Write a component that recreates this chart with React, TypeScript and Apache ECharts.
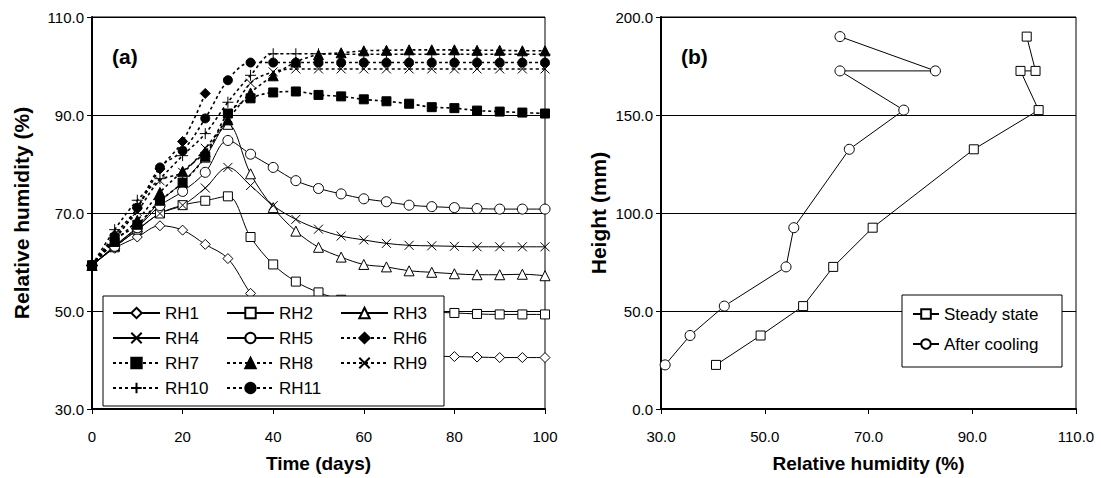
import React, { useEffect, useRef } from "react";
import * as echarts from "echarts";

const days = [0, 5, 10, 15, 20, 25, 30, 35, 40, 45, 50, 55, 60, 65, 70, 75, 80, 85, 90, 95, 100];

const RH1 = [59.3, 62.8, 65.1, 67.4, 66.5, 63.6, 60.7, 53.6, 48.0, 44.6, 43.0, 42.1, 41.6, 41.2, 41.0, 40.8, 40.7, 40.6, 40.5, 40.5, 40.5];
const RH2 = [59.3, 63.0, 66.6, 69.9, 71.6, 72.5, 73.4, 65.1, 59.5, 56.0, 53.8, 52.3, 51.3, 50.6, 50.1, 49.8, 49.6, 49.4, 49.3, 49.3, 49.3];
const RH3 = [59.3, 63.3, 67.2, 72.3, 76.3, 81.4, 88.1, 78.0, 71.1, 66.3, 63.0, 61.0, 59.5, 59.0, 58.2, 57.9, 57.6, 57.4, 57.4, 57.5, 57.2];
const RH4 = [59.3, 63.1, 66.5, 69.9, 71.6, 75.1, 79.3, 75.6, 71.5, 68.7, 66.7, 65.3, 64.5, 63.8, 63.4, 63.3, 63.2, 63.1, 63.1, 63.1, 63.1];
const RH5 = [59.3, 63.2, 67.0, 71.5, 74.4, 78.3, 84.8, 82.0, 79.3, 76.6, 75.0, 73.9, 72.9, 72.3, 71.6, 71.3, 71.1, 70.9, 70.8, 70.8, 70.8];
const RH6 = [59.3, 65.5, 71.0, 79.0, 84.6, 94.4, null, null, null, null, null, null, null, null, null, null, null, null, null, null, null];
const RH7 = [59.3, 64.5, 67.6, 72.5, 76.2, 81.5, 90.3, 93.4, 94.6, 94.8, 94.1, 93.8, 93.2, 92.8, 92.3, 91.6, 91.4, 90.9, 90.7, 90.5, 90.3];
const RH8 = [59.3, 64.2, 68.5, 74.2, 78.5, 82.5, 89.0, 94.5, 98.0, 100.8, 102.3, 102.7, 103.1, 103.2, 103.3, 103.3, 103.3, 103.2, 103.2, 103.1, 103.1];
const RH9 = [59.3, 65.0, 70.3, 76.6, 78.3, 83.2, 89.4, 96.5, 98.8, 99.4, 99.4, 99.4, 99.4, 99.4, 99.4, 99.4, 99.4, 99.4, 99.4, 99.4, 99.4];
const RH10 = [59.3, 66.6, 72.6, 77.0, 81.7, 86.2, 92.6, 98.1, 102.5, 102.5, 102.5, 102.4, 102.4, 102.4, 102.4, 102.4, 102.4, 102.4, 102.4, 102.4, 102.4];
const RH11 = [59.3, 64.5, 71.1, 79.3, 82.7, 89.3, 97.1, 100.7, 100.7, 100.7, 100.7, 100.7, 100.7, 100.7, 100.7, 100.7, 100.7, 100.7, 100.7, 100.7, 100.7];

const heights = [190.0, 172.5, 172.5, 152.5, 132.5, 92.5, 72.5, 52.5, 37.5, 22.5];
const steadyRH = [100.5, 102.2, 99.3, 102.8, 90.3, 70.8, 63.2, 57.4, 49.2, 40.6];
const coolingRH = [64.5, 82.9, 64.5, 76.8, 66.3, 55.6, 54.1, 42.2, 35.6, 30.8];

const leftYTicks = [30, 110, 20];
const rightXTicks = [30, 110, 20];
const rightYTicks = [0, 200, 50];
const timeTicks = [0, 100, 20];

const FONT = "Liberation Sans, Arial, sans-serif";
const CROSS = "path://M0,0L10,10M10,0L0,10";
const PLUS = "path://M5,0L5,10M0,5L10,5";

export default function App() {
  const ref = useRef<HTMLDivElement>(null);

  useEffect(() => {
    if (!ref.current) return;
    const chart = echarts.init(ref.current, null, { renderer: "svg" });

    const pairs = (ys: (number | null)[]) => days.map((d, i) => [d, ys[i] === null ? null : ys[i]]);

    const openStyle = { color: "#fff", borderColor: "#000", borderWidth: 1 };
    const filledStyle = { color: "#000", borderColor: "#000", borderWidth: 1 };
    const strokeStyle = { color: "none", borderColor: "#000", borderWidth: 1 };
    const solid = { color: "#000", width: 1, type: "solid" };
    const dotted = { color: "#000", width: 1.6, type: [3, 3] };

    const defs: any[] = [
      ["RH1", RH1, "diamond", 10, openStyle, solid],
      ["RH2", RH2, "rect", 9, openStyle, solid],
      ["RH3", RH3, "triangle", 10, openStyle, solid],
      ["RH4", RH4, CROSS, 9, strokeStyle, solid],
      ["RH5", RH5, "circle", 10, openStyle, solid],
      ["RH6", RH6, "diamond", 10, filledStyle, dotted],
      ["RH7", RH7, "rect", 9, filledStyle, dotted],
      ["RH8", RH8, "triangle", 10, filledStyle, dotted],
      ["RH9", RH9, CROSS, 9, strokeStyle, dotted],
      ["RH10", RH10, PLUS, 11, strokeStyle, dotted],
      ["RH11", RH11, "circle", 9, filledStyle, dotted],
    ];

    const leftSeries = defs.map(([name, ys, sym, size, st, ls]) => ({
      name,
      type: "line",
      xAxisIndex: 0,
      yAxisIndex: 0,
      data: pairs(ys),
      smooth: 0.35,
      symbol: sym,
      symbolSize: size,
      showAllSymbol: true,
      connectNulls: false,
      itemStyle: st,
      lineStyle: ls,
      z: 2,
    }));

    const rightSeries = [
      {
        name: "Steady state",
        type: "line",
        xAxisIndex: 1,
        yAxisIndex: 1,
        data: heights.map((h, i) => [steadyRH[i], h]),
        symbol: "rect",
        symbolSize: 9,
        itemStyle: openStyle,
        lineStyle: solid,
        z: 2,
      },
      {
        name: "After cooling",
        type: "line",
        xAxisIndex: 1,
        yAxisIndex: 1,
        data: heights.map((h, i) => [coolingRH[i], h]),
        symbol: "circle",
        symbolSize: 10,
        itemStyle: openStyle,
        lineStyle: solid,
        z: 2,
      },
    ];

    const axisCommon = {
      axisLine: { show: true, lineStyle: { color: "#000", width: 2 } },
      axisTick: { show: true, inside: false, length: 5, lineStyle: { color: "#000", width: 1 } },
      axisLabel: { color: "#000", fontSize: 15, fontFamily: FONT },
    };
    const xName = { color: "#000", fontSize: 19, fontWeight: "bold", fontFamily: FONT };
    const yName = { color: "#000", fontSize: 21, fontWeight: "bold", fontFamily: FONT };

    const legendCommon = {
      orient: "vertical",
      itemWidth: 47,
      itemHeight: 13,
      itemGap: 5,
      textStyle: { color: "#000", fontSize: 17, fontFamily: FONT, lineHeight: 20 },
      selectedMode: false,
      z: 6,
      padding: 0,
    };

    chart.setOption({
      animation: false,
      backgroundColor: "#fff",
      grid: [
        { left: 92, top: 17, width: 453, height: 396, show: true, borderColor: "#000", borderWidth: 1 },
        { left: 661, top: 17, width: 415, height: 396, show: true, borderColor: "#000", borderWidth: 1 },
      ],
      xAxis: [
        {
          ...axisCommon,
          type: "value",
          gridIndex: 0,
          min: timeTicks[0],
          max: timeTicks[1],
          interval: timeTicks[2],
          splitLine: { show: false },
          axisLabel: { ...axisCommon.axisLabel, margin: 20 },
          name: "Time (days)",
          nameTextStyle: xName,
          nameLocation: "middle",
          nameGap: 45,
        },
        {
          ...axisCommon,
          type: "value",
          gridIndex: 1,
          min: rightXTicks[0],
          max: rightXTicks[1],
          interval: rightXTicks[2],
          splitLine: { show: false },
          axisLabel: { ...axisCommon.axisLabel, margin: 20, formatter: (v: number) => v.toFixed(1) },
          name: "Relative humidity (%)",
          nameTextStyle: xName,
          nameLocation: "middle",
          nameGap: 45,
        },
      ],
      yAxis: [
        {
          ...axisCommon,
          type: "value",
          gridIndex: 0,
          min: leftYTicks[0],
          max: leftYTicks[1],
          interval: leftYTicks[2],
          splitLine: { show: true, lineStyle: { color: "#000", width: 1 } },
          axisLabel: { ...axisCommon.axisLabel, margin: 8, formatter: (v: number) => v.toFixed(1) },
          name: "Relative humidity (%)",
          nameTextStyle: yName,
          nameLocation: "middle",
          nameGap: 60,
        },
        {
          ...axisCommon,
          type: "value",
          gridIndex: 1,
          min: rightYTicks[0],
          max: rightYTicks[1],
          interval: rightYTicks[2],
          splitLine: { show: true, lineStyle: { color: "#000", width: 1 } },
          axisLabel: { ...axisCommon.axisLabel, margin: 8, formatter: (v: number) => v.toFixed(1) },
          name: "Height (mm)",
          nameTextStyle: yName,
          nameLocation: "middle",
          nameGap: 52,
        },
      ],
      legend: [
        { ...legendCommon, left: 112, top: 303, data: ["RH1", "RH4", "RH7", "RH10"] },
        { ...legendCommon, left: 226, top: 303, data: ["RH2", "RH5", "RH8", "RH11"] },
        { ...legendCommon, left: 340, top: 303, data: ["RH3", "RH6", "RH9"] },
        {
          ...legendCommon,
          left: 912,
          top: 304,
          itemWidth: 26,
          itemHeight: 12,
          itemGap: 10,
          data: ["Steady state", "After cooling"],
        },
      ],
      graphic: [
        {
          type: "rect",
          z: 5,
          shape: { x: 103, y: 296, width: 341, height: 110 },
          style: { fill: "#fff", stroke: "#000", lineWidth: 1 },
        },
        {
          type: "rect",
          z: 5,
          shape: { x: 902, y: 295, width: 160, height: 72 },
          style: { fill: "#fff", stroke: "#000", lineWidth: 1 },
        },
        {
          type: "text",
          z: 6,
          x: 112,
          y: 46,
          style: { text: "(a)", fontSize: 21, fontWeight: "bold", fontFamily: FONT, fill: "#000" },
        },
        {
          type: "text",
          z: 6,
          x: 681,
          y: 46,
          style: { text: "(b)", fontSize: 21, fontWeight: "bold", fontFamily: FONT, fill: "#000" },
        },
      ],
      series: [...leftSeries, ...rightSeries],
    });

    return () => chart.dispose();
  }, []);

  return (
    <div
      ref={ref}
      style={{ position: "absolute", left: 0, top: 0, width: 1101, height: 478 }}
    />
  );
}
